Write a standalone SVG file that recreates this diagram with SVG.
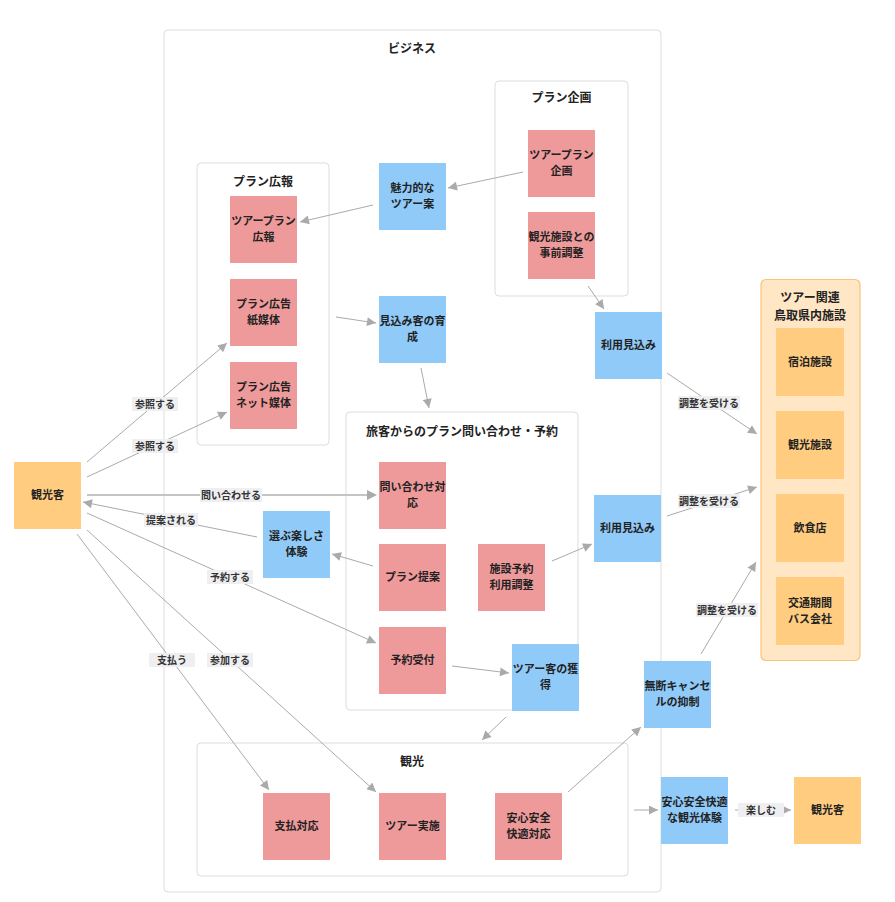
<svg xmlns="http://www.w3.org/2000/svg" width="895" height="902" viewBox="0 0 895 902">
<defs>
<marker id="arr" viewBox="0 0 10 10" refX="10" refY="5" markerWidth="10" markerHeight="9" markerUnits="userSpaceOnUse" orient="auto">
<path d="M0,0 L10,5 L0,10 z" fill="#aaaaaa"/>
</marker>
<style>
text{font-family:"Noto Sans CJK JP","Noto Sans",sans-serif;font-weight:bold;fill:#222;text-anchor:middle}
.n{font-size:11px}
.t{font-size:12px}
.l{font-size:10px;fill:#333;font-weight:bold}
.cont{fill:#ffffff;stroke:#dddddd;stroke-width:1}
.pink{fill:#ef9a9a}
.blue{fill:#90caf9}
.orange{fill:#ffcc80}
.lb{fill:#efeff2}
.e{stroke:#aaaaaa;stroke-width:1;fill:none;marker-end:url(#arr)}
</style>
</defs>
<rect width="895" height="902" fill="#ffffff"/>

<g id="business">
<rect class="cont" x="164" y="30" width="497" height="862" rx="4"/>
<text class="t" x="412" y="53">ビジネス</text>
</g>
<g id="plan-kikaku">
<rect class="cont" x="495" y="81" width="133" height="215" rx="4"/>
<text class="t" x="561.5" y="102">プラン企画</text>
</g>
<g id="plan-kouhou">
<rect class="cont" x="197" y="163" width="132" height="282" rx="4"/>
<text class="t" x="263" y="186">プラン広報</text>
</g>
<g id="toiawase">
<rect class="cont" x="346" y="412" width="232" height="298" rx="4"/>
<text class="t" x="462" y="436">旅客からのプラン問い合わせ・予約</text>
</g>
<g id="kankou">
<rect class="cont" x="197" y="743" width="431" height="133" rx="4"/>
<text class="t" x="412" y="766">観光</text>
</g>
<g id="shisetsu">
<rect x="761" y="279.5" width="99" height="381" rx="5" fill="#ffe6c4" stroke="#fbc37a" stroke-width="1.2"/>
<text class="t" x="810" y="302">ツアー関連</text>
<text class="t" x="810" y="320">鳥取県内施設</text>
</g>

<g id="n-tour-plan-kikaku"><rect class="pink" x="528" y="130" width="67" height="67"/><text class="n" x="561.5" y="159">ツアープラン</text><text class="n" x="561.5" y="175">企画</text></g>
<g id="n-jizen"><rect class="pink" x="528" y="212" width="67" height="67"/><text class="n" x="561.5" y="241">観光施設との</text><text class="n" x="561.5" y="257">事前調整</text></g>
<g id="n-miryoku"><rect class="blue" x="379" y="163" width="67" height="67"/><text class="n" x="412.5" y="192">魅力的な</text><text class="n" x="412.5" y="208">ツアー案</text></g>
<g id="n-tour-plan-kouhou"><rect class="pink" x="230" y="196" width="67" height="67"/><text class="n" x="263.5" y="225">ツアープラン</text><text class="n" x="263.5" y="241">広報</text></g>
<g id="n-kami"><rect class="pink" x="230" y="279" width="67" height="67"/><text class="n" x="263.5" y="308">プラン広告</text><text class="n" x="263.5" y="324">紙媒体</text></g>
<g id="n-net"><rect class="pink" x="230" y="362" width="67" height="67"/><text class="n" x="263.5" y="391">プラン広告</text><text class="n" x="263.5" y="407">ネット媒体</text></g>
<g id="n-mikomi-kyaku"><rect class="blue" x="379" y="296" width="67" height="67"/><text class="n" x="412.5" y="325">見込み客の育</text><text class="n" x="412.5" y="341">成</text></g>
<g id="n-riyou1"><rect class="blue" x="595" y="312" width="67" height="67"/><text class="n" x="628.5" y="349">利用見込み</text></g>
<g id="n-kankoukyaku-l"><rect class="orange" x="14" y="462" width="67" height="67"/><text class="n" x="47.5" y="499">観光客</text></g>
<g id="n-toiawase-taiou"><rect class="pink" x="379" y="462" width="67" height="67"/><text class="n" x="412.5" y="491">問い合わせ対</text><text class="n" x="412.5" y="507">応</text></g>
<g id="n-erabu"><rect class="blue" x="263" y="511" width="67" height="67"/><text class="n" x="296.5" y="540">選ぶ楽しさ</text><text class="n" x="296.5" y="556">体験</text></g>
<g id="n-plan-teian"><rect class="pink" x="379" y="544" width="67" height="67"/><text class="n" x="412.5" y="581">プラン提案</text></g>
<g id="n-shisetsu-yoyaku"><rect class="pink" x="478" y="544" width="67" height="67"/><text class="n" x="511.5" y="573">施設予約</text><text class="n" x="511.5" y="589">利用調整</text></g>
<g id="n-riyou2"><rect class="blue" x="594" y="495" width="67" height="67"/><text class="n" x="627.5" y="532">利用見込み</text></g>
<g id="n-yoyaku-uketsuke"><rect class="pink" x="379" y="627" width="67" height="67"/><text class="n" x="412.5" y="664">予約受付</text></g>
<g id="n-tour-kyaku"><rect class="blue" x="512" y="644" width="67" height="67"/><text class="n" x="545.5" y="673">ツアー客の獲</text><text class="n" x="545.5" y="689">得</text></g>
<g id="n-mudan"><rect class="blue" x="644" y="661" width="67" height="67"/><text class="n" x="677.5" y="690">無断キャンセ</text><text class="n" x="677.5" y="706">ルの抑制</text></g>
<g id="n-shiharai"><rect class="pink" x="263" y="793" width="67" height="67"/><text class="n" x="296.5" y="830">支払対応</text></g>
<g id="n-tour-jisshi"><rect class="pink" x="379" y="793" width="67" height="67"/><text class="n" x="412.5" y="830">ツアー実施</text></g>
<g id="n-anshin-taiou"><rect class="pink" x="495" y="793" width="67" height="67"/><text class="n" x="528.5" y="822">安心安全</text><text class="n" x="528.5" y="838">快適対応</text></g>
<g id="n-anshin-taiken"><rect class="blue" x="661" y="777" width="67" height="67"/><text class="n" x="694.5" y="806">安心安全快適</text><text class="n" x="694.5" y="822">な観光体験</text></g>
<g id="n-kankoukyaku-r"><rect class="orange" x="794" y="777" width="67" height="67"/><text class="n" x="827.5" y="814">観光客</text></g>
<g id="n-shukuhaku"><rect class="orange" x="776" y="328" width="68" height="68"/><text class="n" x="810" y="366">宿泊施設</text></g>
<g id="n-kankou-shisetsu"><rect class="orange" x="776" y="411" width="68" height="68"/><text class="n" x="810" y="449">観光施設</text></g>
<g id="n-inshoku"><rect class="orange" x="776" y="494" width="68" height="68"/><text class="n" x="810" y="532">飲食店</text></g>
<g id="n-koutsu"><rect class="orange" x="776" y="577" width="68" height="68"/><text class="n" x="810" y="607">交通期間</text><text class="n" x="810" y="623">バス会社</text></g>

<g id="connectors">
<line class="e" x1="523" y1="172" x2="448" y2="188"/>
<line class="e" x1="373" y1="205" x2="300" y2="222"/>
<line class="e" x1="588" y1="286" x2="604" y2="309"/>
<line class="e" x1="336" y1="317" x2="376" y2="323"/>
<line class="e" x1="421" y1="368" x2="429" y2="408"/>
<line class="e" x1="87" y1="462" x2="227" y2="343"/>
<line class="e" x1="87" y1="477" x2="227" y2="412"/>
<line x1="87" y1="495" x2="372" y2="495" stroke="#c4c4c4" stroke-width="2"/>
<path d="M367,490 L377,495 L367,500 z" fill="#aaaaaa"/>
<line class="e" x1="257" y1="537" x2="83" y2="502"/>
<line class="e" x1="373" y1="566" x2="332" y2="554"/>
<line class="e" x1="87" y1="513" x2="376" y2="643"/>
<line class="e" x1="77" y1="534" x2="269" y2="790"/>
<line class="e" x1="87" y1="530" x2="376" y2="792"/>
<line class="e" x1="552" y1="561" x2="592" y2="544"/>
<line class="e" x1="452" y1="666" x2="509" y2="673"/>
<line class="e" x1="506" y1="717" x2="482" y2="740"/>
<line class="e" x1="568" y1="792" x2="641" y2="727"/>
<line class="e" x1="634" y1="810" x2="658" y2="810"/>
<line class="e" x1="735" y1="810" x2="791" y2="810"/>
<line class="e" x1="667" y1="373" x2="757" y2="434"/>
<line class="e" x1="667" y1="516" x2="757" y2="487"/>
<line class="e" x1="701" y1="654" x2="756" y2="562"/>

<rect class="lb" x="132" y="397" width="46" height="14"/><text class="l" x="155" y="408">参照する</text>
<rect class="lb" x="132" y="439" width="46" height="14"/><text class="l" x="155" y="450">参照する</text>
<rect class="lb" x="200" y="488" width="62" height="14"/><text class="l" x="231" y="499">問い合わせる</text>
<rect class="lb" x="144" y="513" width="54" height="14"/><text class="l" x="171" y="524">提案される</text>
<rect class="lb" x="207" y="570" width="46" height="14"/><text class="l" x="230" y="581">予約する</text>
<rect class="lb" x="149" y="653" width="46" height="14"/><text class="l" x="172" y="664">支払う</text>
<rect class="lb" x="207" y="653" width="46" height="14"/><text class="l" x="230" y="664">参加する</text>
<rect class="lb" x="678" y="396" width="62" height="14"/><text class="l" x="709" y="407">調整を受ける</text>
<rect class="lb" x="678" y="494" width="62" height="14"/><text class="l" x="709" y="505">調整を受ける</text>
<rect class="lb" x="696" y="603" width="62" height="14"/><text class="l" x="727" y="614">調整を受ける</text>
<rect class="lb" x="738" y="803" width="46" height="14"/><text class="l" x="761" y="814">楽しむ</text>
</g>
</svg>
